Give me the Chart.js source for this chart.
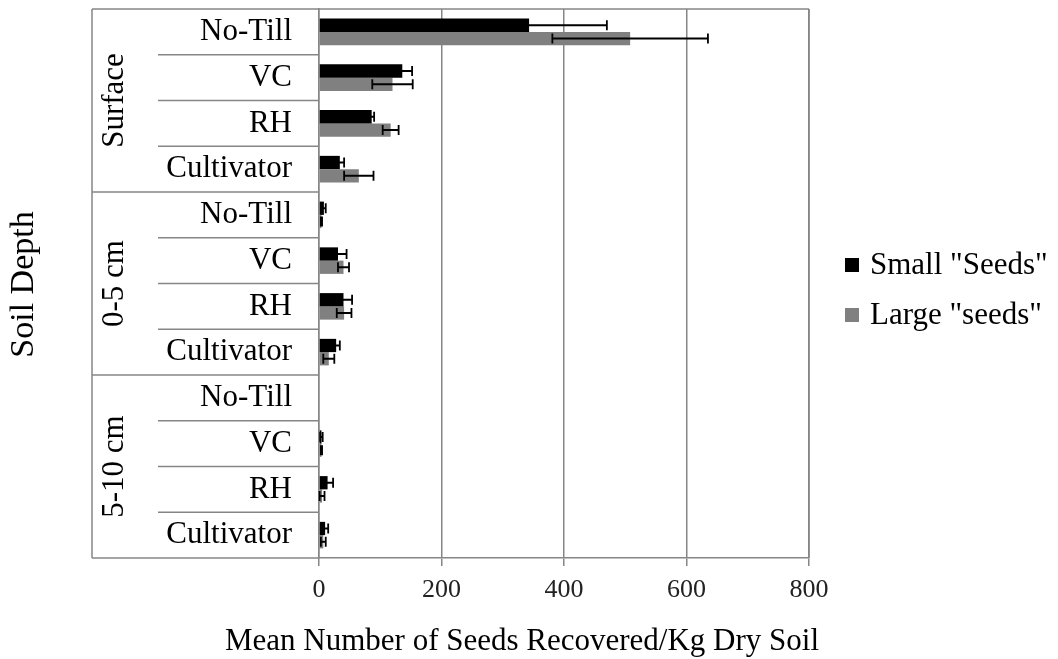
<!DOCTYPE html>
<html>
<head>
<meta charset="utf-8">
<script src="https://cdn.jsdelivr.net/npm/chart.js@4/dist/chart.umd.min.js"></script>
<style>
  html, body { margin: 0; padding: 0; background: #fff; }
  #wrap { width: 1058px; height: 659px; }
</style>
</head>
<body>
<div id="wrap"><canvas id="seedChart" width="1058" height="659"></canvas></div>
<script>
// depth groups and tillage treatments (top to bottom)
const depthGroups = ['Surface', '0-5 cm', '5-10 cm'];
const tillage = ['No-Till', 'VC', 'RH', 'Cultivator'];

// means, 12 rows in the order above
const smallSeeds = [343, 136, 86, 34,   8, 31, 40, 28,   0, 4, 14, 10];
const largeSeeds = [508, 120, 117, 65,  4, 40, 41, 16,   0, 4, 5, 7];
// error bar half widths
const smallErr = [127, 16, 4, 7,   3, 14, 14, 6,   0, 2, 9, 5];
const largeErr = [127, 33, 13, 24,  1, 9, 12, 9,   0, 1, 4, 4];

const xTicks = [0, 200, 400, 600, 800];
const xTitle = 'Mean Number of Seeds Recovered/Kg Dry Soil';
const yTitle = 'Soil Depth';

const labels = [];
depthGroups.forEach(() => tillage.forEach(t => labels.push(t)));

const serif = 'Liberation Serif';
const lineGrey = '#868686';

// error bars drawn over the bars
const errorBars = {
  id: 'errorBars',
  afterDatasetsDraw(chart) {
    const ctx = chart.ctx, x = chart.scales.x;
    const errs = [smallErr, largeErr];
    chart.data.datasets.forEach((ds, di) => {
      const meta = chart.getDatasetMeta(di);
      meta.data.forEach((bar, i) => {
        const e = errs[di][i];
        if (!e) return;
        const v = ds.data[i];
        const x1 = x.getPixelForValue(Math.max(0, v - e));
        const x2 = x.getPixelForValue(v + e);
        const cap = 5;
        ctx.save();
        ctx.strokeStyle = '#000';
        ctx.lineWidth = 1.8;
        ctx.beginPath();
        ctx.moveTo(x1, bar.y); ctx.lineTo(x2, bar.y);
        ctx.moveTo(x1, bar.y - cap); ctx.lineTo(x1, bar.y + cap);
        ctx.moveTo(x2, bar.y - cap); ctx.lineTo(x2, bar.y + cap);
        ctx.stroke();
        ctx.restore();
      });
    });
  }
};

// table style frame, group labels, titles and legend
const frame = {
  id: 'frame',
  afterDraw(chart) {
    const ctx = chart.ctx, area = chart.chartArea, y = chart.scales.y;
    const outerLeft = 92, innerLeft = 158;
    ctx.save();
    ctx.strokeStyle = lineGrey;
    ctx.lineWidth = 1.5;
    ctx.beginPath();
    ctx.moveTo(outerLeft, area.top); ctx.lineTo(area.right, area.top);
    ctx.moveTo(outerLeft, area.bottom); ctx.lineTo(area.left, area.bottom);
    ctx.moveTo(outerLeft, area.top); ctx.lineTo(outerLeft, area.bottom);
    ctx.moveTo(area.right, area.top); ctx.lineTo(area.right, area.bottom);
    for (let i = 1; i < labels.length; i++) {
      const py = y.getPixelForValue(i - 0.5);
      const start = i % tillage.length == 0 ? outerLeft : innerLeft;
      ctx.moveTo(start, py); ctx.lineTo(area.left, py);
    }
    ctx.stroke();

    // rotated depth group labels
    ctx.fillStyle = '#000';
    ctx.font = '31px "' + serif + '"';
    ctx.textAlign = 'center';
    ctx.textBaseline = 'alphabetic';
    depthGroups.forEach((g, gi) => {
      const top = y.getPixelForValue(gi * tillage.length - 0.5);
      const bottom = y.getPixelForValue((gi + 1) * tillage.length - 0.5);
      ctx.save();
      ctx.translate(123, (top + bottom) / 2);
      ctx.rotate(-Math.PI / 2);
      ctx.fillText(g, 0, 0);
      ctx.restore();
    });

    // axis titles
    ctx.save();
    ctx.font = '34px "' + serif + '"';
    ctx.translate(33, (area.top + area.bottom) / 2 + 1);
    ctx.rotate(-Math.PI / 2);
    ctx.fillText(yTitle, 0, 0);
    ctx.restore();
    ctx.font = '31px "' + serif + '"';
    ctx.fillText(xTitle, 522, 650);

    // legend
    ctx.textAlign = 'left';
    ctx.textBaseline = 'middle';
    const legendY = [265, 315];
    chart.data.datasets.forEach((ds, di) => {
      ctx.fillStyle = ds.backgroundColor;
      ctx.fillRect(845, legendY[di] - 7, 14, 14);
      ctx.fillStyle = '#000';
      ctx.fillText(ds.label, 870, legendY[di] + 1);
    });
    ctx.restore();
  }
};

new Chart(document.getElementById('seedChart'), {
  type: 'bar',
  data: {
    labels: labels,
    datasets: [
      { label: 'Small "Seeds"', data: smallSeeds, backgroundColor: '#000000' },
      { label: 'Large "seeds"', data: largeSeeds, backgroundColor: '#808080' }
    ]
  },
  options: {
    indexAxis: 'y',
    responsive: false,
    animation: false,
    devicePixelRatio: 1,
    datasets: { bar: { barPercentage: 1, categoryPercentage: 0.58 } },
    layout: { padding: { top: 9, right: 249, bottom: 0, left: 0 } },
    plugins: { legend: { display: false }, tooltip: { enabled: false } },
    scales: {
      x: {
        min: xTicks[0],
        max: xTicks[xTicks.length - 1],
        afterBuildTicks: (scale) => { scale.ticks = xTicks.map(v => ({ value: v })); },
        afterFit: (scale) => {
          scale.height = 101;
          scale.paddingLeft = 0; scale.paddingRight = 0;
        },
        ticks: { font: { family: serif, size: 26 }, color: '#222', padding: 9 },
        grid: { color: lineGrey, lineWidth: 1.5, tickLength: 8 },
        border: { color: lineGrey, width: 1.5 }
      },
      y: {
        afterFit: (scale) => {
          scale.width = 319;
          scale.paddingTop = 0; scale.paddingBottom = 0;
        },
        ticks: { font: { family: serif, size: 31 }, color: '#000', padding: 27, autoSkip: false },
        grid: { display: false, drawTicks: false },
        border: { color: lineGrey, width: 1.5 }
      }
    }
  },
  plugins: [errorBars, frame]
});
</script>
</body>
</html>
